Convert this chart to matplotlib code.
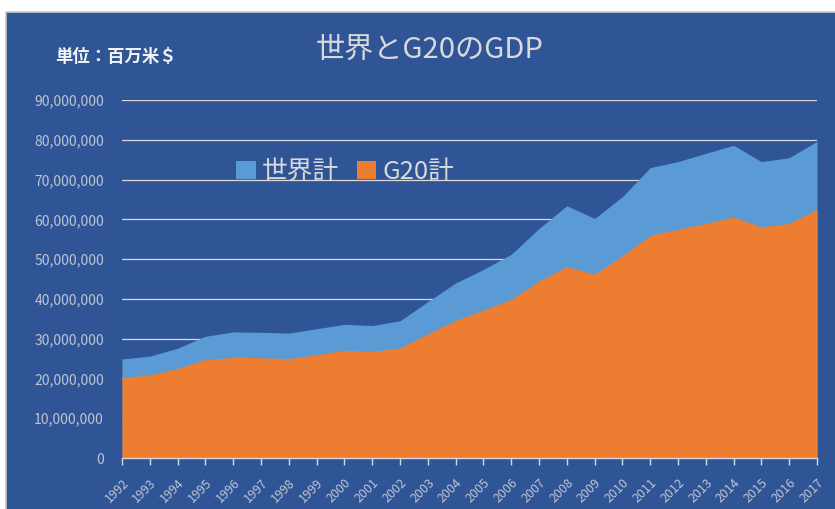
import numpy as np
import matplotlib.pyplot as plt
from matplotlib.patches import Rectangle, Patch
from matplotlib.ticker import FuncFormatter

plt.rcParams['font.family'] = ['Noto Sans CJK JP', 'DejaVu Sans']

# GDP in million US$
years = list(range(1992, 2018))
world_total = [24.9, 25.6, 27.6, 30.6, 31.7, 31.6, 31.4, 32.5, 33.6, 33.3,
               34.5, 39.3, 44.0, 47.4, 51.2, 57.7, 63.4, 60.2, 65.7, 73.0,
               74.5, 76.6, 78.6, 74.5, 75.5, 79.6]
g20_total = [20.2, 20.9, 22.5, 24.8, 25.3, 25.2, 25.0, 26.0, 27.1, 26.8,
             27.7, 31.2, 34.6, 37.2, 39.9, 44.5, 48.1, 46.2, 50.8, 56.0,
             57.5, 59.0, 60.6, 58.1, 59.0, 62.5]
world_total = np.array(world_total) * 1e6
g20_total = np.array(g20_total) * 1e6

bg = '#2F5597'
text_col = '#D9D9D9'
tick_col = '#BFC4D0'

W, H = 835, 509
fig = plt.figure(figsize=(W / 100, H / 100), dpi=100)
fig.patch.set_facecolor('white')
fig.patches.append(Rectangle((6 / W, -0.01), 1, 1 - 12 / H + 0.01,
                             transform=fig.transFigure, facecolor=bg,
                             edgecolor='#C8C8C8', linewidth=1.2, zorder=-5))

ax = fig.add_axes([122 / W, 51 / H, (817 - 122) / W, (458 - 100) / H])
ax.set_facecolor(bg)

ax.fill_between(years, 0, world_total, color='#5B9BD5', linewidth=0, zorder=2)
ax.fill_between(years, 0, g20_total, color='#ED7D31', linewidth=0, zorder=3)

ax.set_xlim(years[0], years[-1])
ax.set_ylim(0, 90e6)
ax.set_yticks(np.arange(0, 90e6 + 1, 10e6))
ax.yaxis.set_major_formatter(FuncFormatter(lambda v, p: f'{int(v):,}'))
ax.set_xticks(years)
ax.set_xticklabels([str(y) for y in years], rotation=45, ha='right',
                   rotation_mode='anchor', fontsize=9, color=tick_col)
ax.tick_params(axis='y', length=0, labelsize=10, labelcolor=tick_col, pad=13)
ax.tick_params(axis='x', length=5, width=1, color='#D9D9D9', pad=8)

ax.grid(axis='y', color='#D9D9D9', linewidth=0.9, zorder=1)
ax.set_axisbelow(True)
for side in ['top', 'right', 'left']:
    ax.spines[side].set_visible(False)
ax.spines['bottom'].set_color('#D9D9D9')
ax.spines['bottom'].set_linewidth(1)
ax.spines['bottom'].set_zorder(4)

fig.text(430 / W, 1 - 50 / H, '世界とG20のGDP', ha='center', va='center',
         fontsize=21, color=text_col)
fig.text(55 / W, 1 - 57 / H, '単位：百万米＄', ha='left', va='center',
         fontsize=12.5, fontweight='bold', color='#F2F2F2')

handles = [Patch(facecolor='#5B9BD5', label='世界計'),
           Patch(facecolor='#ED7D31', label='G20計')]
leg = fig.legend(handles=handles, loc='center left',
                 bbox_to_anchor=(226 / W, 1 - 172 / H), ncol=2, frameon=False,
                 fontsize=18.5, handlelength=0.75, handleheight=0.75,
                 handletextpad=0.25, columnspacing=0.7, borderaxespad=0)
for t in leg.get_texts():
    t.set_color(text_col)

fig.savefig('out.png', dpi=100, facecolor=fig.get_facecolor())
